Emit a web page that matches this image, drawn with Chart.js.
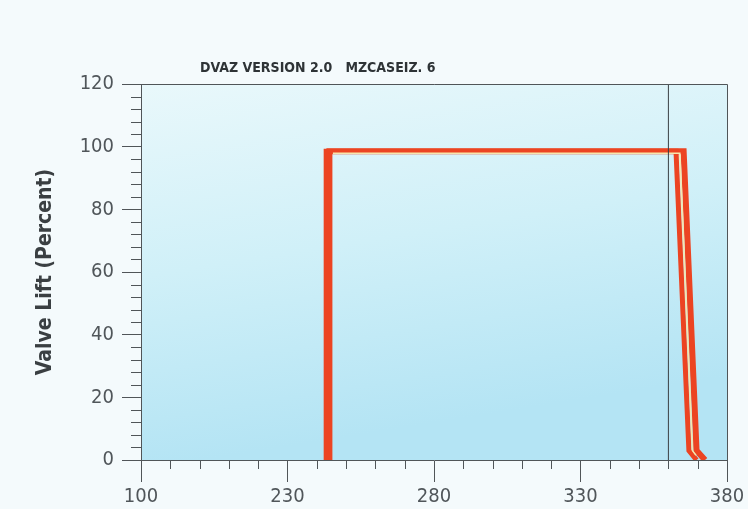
<!DOCTYPE html>
<html>
<head>
<meta charset="utf-8">
<script src="https://cdn.jsdelivr.net/npm/chart.js@4"></script>
<style>
  html, body { margin: 0; padding: 0; background: #f4fafc; }
  #wrap { width: 748px; height: 509px; }
</style>
</head>
<body>
<div id="wrap"><canvas id="lift" width="748" height="509"></canvas></div>
<script>
// crank angle (deg) / valve lift (%)
const liftXA = [243.2, 243.2, 362.6, 367.0, 369.6];
const liftYA = [0, 98.5, 98.5, 3, 0];
const liftXB = [244.3, 244.3, 365.2, 369.6, 372.5];
const liftYB = [0, 98.5, 98.5, 3, 0];
const liftXC = [245.5, 363.9, 368.2, 369.4];
const liftYC = [97.9, 97.9, 3, 1.5];
const markerX = [360, 360];
const markerY = [0, 120];

const xTickLabels = ['100', '230', '280', '330', '380'];
const yTickLabels = ['0', '20', '40', '60', '80', '100', '120'];
const chartTitle = 'DVAZ VERSION 2.0   MZCASEIZ. 6';
const yTitle = 'Valve Lift (Percent)';

const NARROW = '"Liberation Sans Narrow", "DejaVu Sans Condensed", "Liberation Sans", sans-serif';
const AXIS = '#505558';
const RED = '#ec4422';

function pts(xs, ys) {
  return xs.map((x, i) => ({ x, y: ys[i] }));
}

const decor = {
  id: 'decor',
  beforeDraw(chart) {
    const { ctx, chartArea: a } = chart;
    ctx.save();
    ctx.fillStyle = '#f4fafc';
    ctx.fillRect(0, 0, chart.width, chart.height);
    const g = ctx.createLinearGradient(a.left, a.top, a.left + 60, a.bottom);
    g.addColorStop(0, '#e9f8fb');
    g.addColorStop(0.5, '#d0f0f8');
    g.addColorStop(1, '#b4e4f4');
    ctx.fillStyle = g;
    ctx.fillRect(a.left, a.top, a.right - a.left, a.bottom - a.top);
    ctx.restore();
  },
  afterDraw(chart) {
    const { ctx, chartArea: a, scales } = chart;
    ctx.save();
    ctx.strokeStyle = AXIS;
    ctx.lineWidth = 1;
    ctx.beginPath();
    ctx.moveTo(a.left, a.top + 0.5);
    ctx.lineTo(a.right + 0.5, a.top + 0.5);
    ctx.lineTo(a.right + 0.5, a.bottom);
    ctx.stroke();

    // minor ticks (shorter than the major ones)
    ctx.beginPath();
    scales.y.ticks.forEach(t => {
      if (t.value % 20 !== 0) {
        const py = Math.round(scales.y.getPixelForValue(t.value)) + 0.5;
        ctx.moveTo(a.left - 10, py);
        ctx.lineTo(a.left, py);
      }
    });
    scales.x.ticks.forEach(t => {
      if ((t.value - 180) % 50 !== 0) {
        const px = Math.round(scales.x.getPixelForValue(t.value)) + 0.5;
        ctx.moveTo(px, a.bottom);
        ctx.lineTo(px, a.bottom + 9);
      }
    });
    ctx.stroke();

    ctx.fillStyle = '#2e3336';
    ctx.font = 'bold 14px ' + NARROW;
    ctx.textBaseline = 'middle';
    ctx.fillText(chartTitle, 200, 68);
    ctx.restore();
  }
};

new Chart(document.getElementById('lift'), {
  type: 'line',
  data: {
    datasets: [
      { data: pts(markerX, markerY), borderColor: '#3a3f42', borderWidth: 1 },
      { data: pts(liftXC, liftYC), borderColor: '#f6e7ad', borderWidth: 1.5 },
      { data: pts(liftXA, liftYA), borderColor: RED, borderWidth: 5 },
      { data: pts(liftXB, liftYB), borderColor: RED, borderWidth: 6 }
    ]
  },
  options: {
    responsive: false,
    animation: false,
    layout: { padding: { left: 0, right: 21, top: 84, bottom: 0 } },
    elements: {
      point: { radius: 0 },
      line: { tension: 0, borderJoinStyle: 'miter', borderCapStyle: 'butt', fill: false }
    },
    plugins: { legend: { display: false }, tooltip: { enabled: false } },
    scales: {
      x: {
        type: 'linear',
        min: 180,
        max: 380,
        afterFit: (s) => { s.height = 49; },
        border: { color: AXIS, width: 1 },
        grid: {
          drawOnChartArea: false,
          tickLength: 22,
          tickColor: (c) => ((c.tick.value - 180) % 50 === 0 ? AXIS : 'rgba(0,0,0,0)')
        },
        ticks: {
          stepSize: 10,
          autoSkip: false,
          maxRotation: 0,
          padding: 3,
          color: '#50565a',
          font: { family: NARROW, size: 20 },
          callback: (v) => ((v - 180) % 50 === 0 ? xTickLabels[(v - 180) / 50] : '')
        }
      },
      y: {
        min: 0,
        max: 120,
        afterFit: (s) => { s.width = 141; },
        border: { color: AXIS, width: 1 },
        grid: {
          drawOnChartArea: false,
          tickLength: 19,
          tickColor: (c) => (c.tick.value % 20 === 0 ? AXIS : 'rgba(0,0,0,0)')
        },
        ticks: {
          stepSize: 4,
          autoSkip: false,
          padding: 8,
          color: '#50565a',
          font: { family: NARROW, size: 20 },
          callback: (v) => (v % 20 === 0 ? yTickLabels[v / 20] : '')
        },
        title: {
          display: true,
          text: yTitle,
          color: '#3a3f42',
          padding: { top: 33, bottom: 0 },
          font: { family: NARROW, size: 21, weight: 'bold' }
        }
      }
    }
  },
  plugins: [decor]
});
</script>
</body>
</html>
